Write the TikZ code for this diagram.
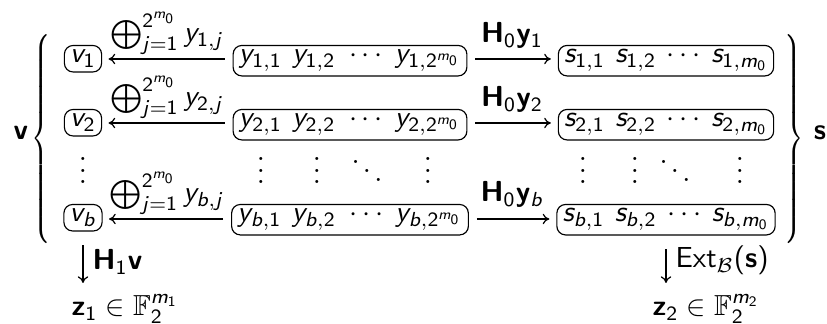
\documentclass[tikz,border=0pt]{standalone}
\usepackage{amsmath,amssymb}
\usepackage{graphicx}
\usetikzlibrary{arrows.meta}
\DeclareSymbolFont{sfletters}{OT1}{cmss}{m}{sl}
\SetSymbolFont{operators}{normal}{OT1}{cmss}{m}{n}
\SetMathAlphabet{\mathbf}{normal}{OT1}{cmss}{bx}{n}
\newcommand\mysfl[1]{\DeclareMathSymbol{#1}{\mathalpha}{sfletters}{`#1}}
\mysfl a\mysfl b\mysfl c\mysfl d\mysfl e\mysfl f\mysfl g\mysfl h\mysfl i\mysfl j\mysfl k\mysfl l\mysfl m
\mysfl n\mysfl o\mysfl p\mysfl q\mysfl r\mysfl s\mysfl t\mysfl u\mysfl v\mysfl w\mysfl x\mysfl y\mysfl z
\newcommand\bigbrace[1]{\scalebox{0.75}[1]{\delimitershortfall=0pt\delimiterfactor=1000$\left#1\vrule height 38pt depth 33pt width 0pt\right.$}}
\newcommand\yrow[1]{$y_{#1,1}\hspace{3.5pt}y_{#1,2}\hspace{3pt}\cdots\hspace{2.5pt}y_{#1,2^{m_0}}$}
\newcommand\srow[1]{$s_{#1,1}\hspace{3.5pt}s_{#1,2}\hspace{2pt}\cdots\hspace{2pt}s_{#1,m_0}$}
\begin{document}
\begin{tikzpicture}[x=0.345pt,y=-0.345pt,
  bx/.style={draw, rounded corners=3pt, inner xsep=2pt, inner ysep=1.6pt, anchor=base},
  ar/.style={-{Computer Modern Rightarrow[length=2.3pt,width=3.6pt]}, line width=0.42pt},
  lb/.style={inner sep=0pt, anchor=base},
  dt/.style={inner sep=0pt, anchor=base}]
\useasboundingbox (0,0) rectangle (827,324);
% row 1
\node[bx] (v1) at (83,63) {$v_1$};
\node[bx] (y1) at (350,63) {\yrow{1}};
\node[bx] (s1) at (666,63) {\srow{1}};
% row 2
\node[bx] (v2) at (83,127) {$v_2$};
\node[bx] (y2) at (350,127) {\yrow{2}};
\node[bx] (s2) at (666,127) {\srow{2}};
% row b
\node[bx] (vb) at (83,222) {$v_b$};
\node[bx] (yb) at (350,222) {\yrow{b}};
\node[bx] (sb) at (666,222) {\srow{b}};
% dots
\node[dt] (d0) at (83,184) {$\vdots$};
\node[dt] (d1) at (261,184) {$\vdots$};
\node[dt] (d2) at (317,184) {$\vdots$};
\node[dt] (d3) at (367,184) {$\ddots$};
\node[dt] (d4) at (428,184) {$\vdots$};
\node[dt] (d5) at (583,184) {$\vdots$};
\node[dt] (d6) at (635,184) {$\vdots$};
\node[dt] (d7) at (675,184) {$\ddots$};
\node[dt] (d8) at (740,184) {$\vdots$};
% axis coordinates
\coordinate (a1) at (0,59);
\coordinate (a2) at (0,123);
\coordinate (ab) at (0,219);
% arrows
\draw[ar, shorten <=2.7pt, shorten >=2.2pt] (y1.west |- a1) -- (v1.east |- a1);
\draw[ar, shorten <=2.7pt, shorten >=2.2pt] (y2.west |- a2) -- (v2.east |- a2);
\draw[ar, shorten <=2.7pt, shorten >=2.2pt] (yb.west |- ab) -- (vb.east |- ab);
\draw[ar, shorten <=2.7pt, shorten >=2.4pt] (y1.east |- a1) -- (s1.west |- a1);
\draw[ar, shorten <=2.7pt, shorten >=2.4pt] (y2.east |- a2) -- (s2.west |- a2);
\draw[ar, shorten <=2.7pt, shorten >=2.4pt] (yb.east |- ab) -- (sb.west |- ab);
% labels
\node[lb] (o1) at (167,42) {$\bigoplus_{j=1}^{2^{m_0}} y_{1,j}$};
\node[lb] (o2) at (167,106) {$\bigoplus_{j=1}^{2^{m_0}} y_{2,j}$};
\node[lb] (ob) at (167,202) {$\bigoplus_{j=1}^{2^{m_0}} y_{b,j}$};
\node[lb] (h1) at (512,43) {$\mathbf{H}_0\mathbf{y}_1$};
\node[lb] (h2) at (512,107) {$\mathbf{H}_0\mathbf{y}_2$};
\node[lb] (hb) at (512,202) {$\mathbf{H}_0\mathbf{y}_b$};
% braces
\node[inner sep=0pt] (lbr) at (42,139) {\bigbrace\{};
\node[inner sep=0pt] (rbr) at (795,139) {\bigbrace\}};
\node[inner sep=0pt] (vv) at (21,133) {$\mathbf{v}$};
\node[inner sep=0pt] (ss) at (820,133) {$\mathbf{s}$};
% bottom
\coordinate (c1) at (83,283);
\coordinate (c2) at (666,283);
\draw[ar, shorten <=4.8pt] (vb.south) -- (c1);
\draw[ar, shorten <=4.8pt] (sb.south) -- (c2);
\node[lb, anchor=base west] (h1v) at (92,270) {$\mathbf{H}_1\mathbf{v}$};
\node[lb, anchor=base west] (ext) at (675,268) {$\operatorname{Ext}_{\mathcal{B}}(\mathbf{s})$};
\node[lb, anchor=base west] (z1) at (71,316) {$\mathbf{z}_1\in\mathbb{F}_2^{m_1}$};
\node[lb, anchor=base west] (z2) at (652,316) {$\mathbf{z}_2\in\mathbb{F}_2^{m_2}$};
\end{tikzpicture}
\end{document}
